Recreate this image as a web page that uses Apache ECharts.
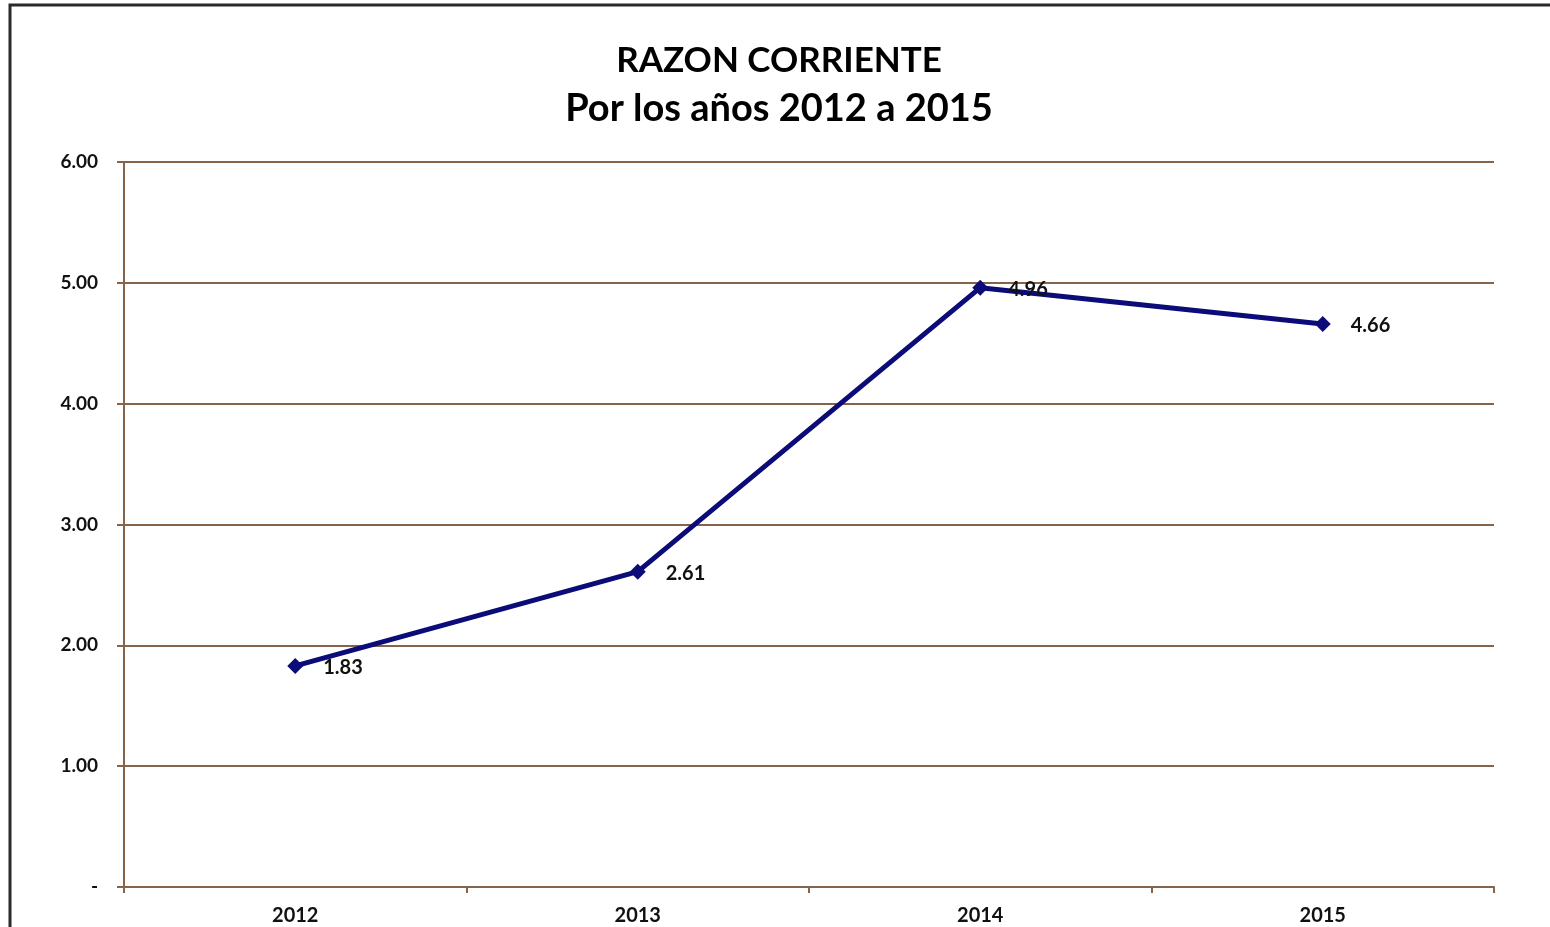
<!DOCTYPE html>
<html>
<head>
<meta charset="utf-8">
<script src="https://cdn.jsdelivr.net/npm/echarts@6/dist/echarts.min.js"></script>
<style>
  html, body { margin: 0; padding: 0; background: #ffffff; }
  #chart { width: 1550px; height: 927px; }
</style>
</head>
<body>
<div id="chart"></div>
<script>
// Current ratio by year
const years = ['2012', '2013', '2014', '2015'];
const ratio = [1.83, 2.61, 4.96, 4.66];
const yTickLabels = ['-', '1.00', '2.00', '3.00', '4.00', '5.00', '6.00'];

const brown = '#86644a';
const navy = '#0c0c78';
const fontFamily = 'Lato, "Open Sans", sans-serif';

const chart = echarts.init(document.getElementById('chart'), null, { renderer: 'canvas' });

chart.setOption({
  backgroundColor: '#ffffff',
  animation: false,
  title: {
    text: 'RAZON CORRIENTE',
    subtext: 'Por los años 2012 a 2015',
    left: 774,
    top: 38,
    itemGap: 12,
    textAlign: 'center',
    textStyle: {
      fontFamily: fontFamily,
      fontWeight: 'bold',
      fontSize: 35,
      color: '#000000'
    },
    subtextStyle: {
      fontFamily: fontFamily,
      fontWeight: 'bold',
      fontSize: 38,
      color: '#000000'
    }
  },
  graphic: [{
    type: 'rect',
    shape: { x: 10, y: 5, width: 1600, height: 1000 },
    style: { fill: 'none', stroke: '#2b2b2b', lineWidth: 3 },
    silent: true
  }],
  grid: { left: 124, right: 56, top: 162, bottom: 40 },
  xAxis: {
    type: 'category',
    data: years,
    boundaryGap: true,
    axisLine: { lineStyle: { color: brown, width: 2 } },
    axisTick: { show: true, length: 6, lineStyle: { color: brown, width: 2 } },
    axisLabel: {
      margin: 19,
      fontFamily: fontFamily,
      fontWeight: 'bold',
      fontSize: 20,
      color: '#111111'
    }
  },
  yAxis: {
    type: 'value',
    min: 0,
    max: 6,
    interval: 1,
    axisLine: { show: true, lineStyle: { color: brown, width: 2 } },
    axisTick: { show: true, length: 7, lineStyle: { color: brown, width: 2 } },
    splitLine: { show: true, lineStyle: { color: brown, width: 2 } },
    axisLabel: {
      margin: 26,
      fontFamily: fontFamily,
      fontWeight: 'bold',
      fontSize: 19,
      color: '#111111',
      formatter: function (v) { return yTickLabels[Math.round(v)]; }
    }
  },
  series: [{
    type: 'line',
    data: ratio,
    symbol: 'diamond',
    symbolSize: 16,
    lineStyle: { color: navy, width: 5 },
    itemStyle: { color: navy },
    label: {
      show: true,
      position: 'right',
      distance: 20,
      offset: [0, 2],
      fontFamily: fontFamily,
      fontWeight: 'bold',
      fontSize: 20,
      color: '#111111',
      formatter: function (p) { return p.value.toFixed(2); }
    }
  }]
});
</script>
</body>
</html>
